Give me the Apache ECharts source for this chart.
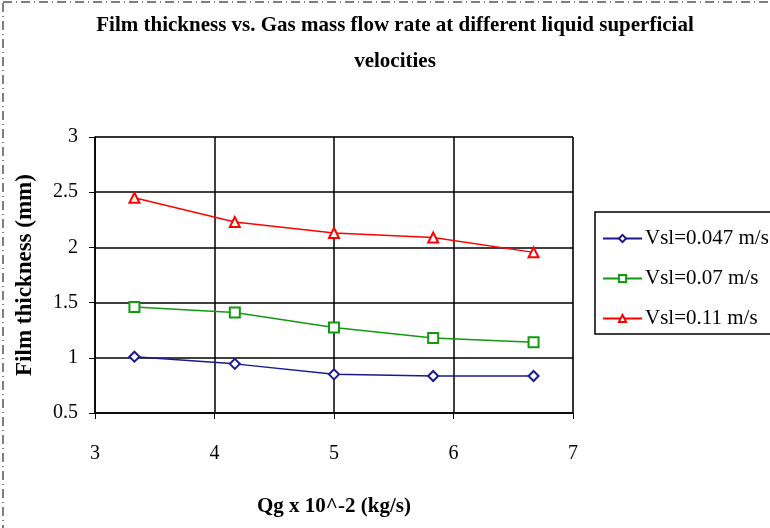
<!DOCTYPE html>
<html><head><meta charset="utf-8">
<script src="https://cdn.jsdelivr.net/npm/echarts@6/dist/echarts.min.js"></script>
<style>html,body{margin:0;padding:0;background:#fff}#c{width:770px;height:528px}</style>
</head><body><div id="c"></div>
<script>
const xValues = [3.33, 4.17, 5.0, 5.83, 6.67];
const vsl047 = [1.01, 0.945, 0.85, 0.835, 0.835];
const vsl07 = [1.46, 1.41, 1.275, 1.18, 1.14];
const vsl11 = [2.45, 2.23, 2.13, 2.09, 1.955];
const seriesNames = ['Vsl=0.047 m/s', 'Vsl=0.07 m/s', 'Vsl=0.11 m/s'];
const titleText = 'Film thickness vs. Gas mass flow rate at different liquid superficial\nvelocities';

const pairs = ys => xValues.map((x, i) => [x, ys[i]]);
const font = '"Liberation Serif", "DejaVu Serif", serif';
const chart = echarts.init(document.getElementById('c'));
const mk = (name, ys, color, symbol) => ({
  name, type: 'line', data: pairs(ys), symbol, symbolSize: 10,
  lineStyle: { color, width: 1.5 }, itemStyle: { color, borderWidth: 1.5 },
  showSymbol: true, z: 3
});
chart.setOption({
  animation: false,
  textStyle: { fontFamily: font },
  title: {
    text: titleText, left: 390, textAlign: 'center', top: 3,
    textStyle: { fontFamily: font, fontWeight: 'bold', fontSize: 21, color: '#000', lineHeight: 36 }
  },
  grid: { left: 95, right: 197, top: 137, bottom: 115, show: true, borderColor: '#999', borderWidth: 1 },
  legend: {
    orient: 'vertical', left: 595, top: 212, width: 220,
    padding: [15, 8, 4, 7], itemGap: 17, itemWidth: 39, itemHeight: 9,
    borderColor: '#000', borderWidth: 1.5,
    textStyle: { fontFamily: font, fontSize: 21, color: '#000', padding: [0, 0, 0, -2], height: 23, lineHeight: 23 },
    data: seriesNames
  },
  xAxis: {
    type: 'value', min: 3, max: 7, interval: 1,
    name: 'Qg x 10^-2 (kg/s)', nameLocation: 'middle', nameGap: 83,
    nameTextStyle: { fontFamily: font, fontWeight: 'bold', fontSize: 21, color: '#000' },
    axisLine: { lineStyle: { color: '#000', width: 1.5 } },
    axisTick: { show: true, length: 6, lineStyle: { color: '#000' } },
    axisLabel: { fontFamily: font, fontSize: 20, color: '#000', margin: 31 },
    splitLine: { show: true, lineStyle: { color: '#000', width: 1.5 } }
  },
  yAxis: {
    type: 'value', min: 0.5, max: 3, interval: 0.5,
    name: 'Film thickness (mm)', nameLocation: 'middle', nameGap: 58,
    nameTextStyle: { fontFamily: font, fontWeight: 'bold', fontSize: 23, color: '#000' },
    axisLine: { show: true, lineStyle: { color: '#000', width: 1.5 } },
    axisTick: { show: true, length: 6, lineStyle: { color: '#000' } },
    axisLabel: { fontFamily: font, fontSize: 20, color: '#000', margin: 17 },
    splitLine: { show: true, lineStyle: { color: '#000', width: 1.5 } }
  },
  graphic: [{
    type: 'rect', shape: { x: 3, y: 2, width: 800, height: 600 }, silent: true,
    style: { fill: 'none', stroke: '#000', lineWidth: 1, lineDash: [9, 4, 1, 4] }
  }],
  series: [
    mk(seriesNames[0], vsl047, '#1a1a8c', 'emptyDiamond'),
    mk(seriesNames[1], vsl07, '#119911', 'emptyRect'),
    mk(seriesNames[2], vsl11, '#ff0000', 'emptyTriangle')
  ]
});
</script></body></html>
